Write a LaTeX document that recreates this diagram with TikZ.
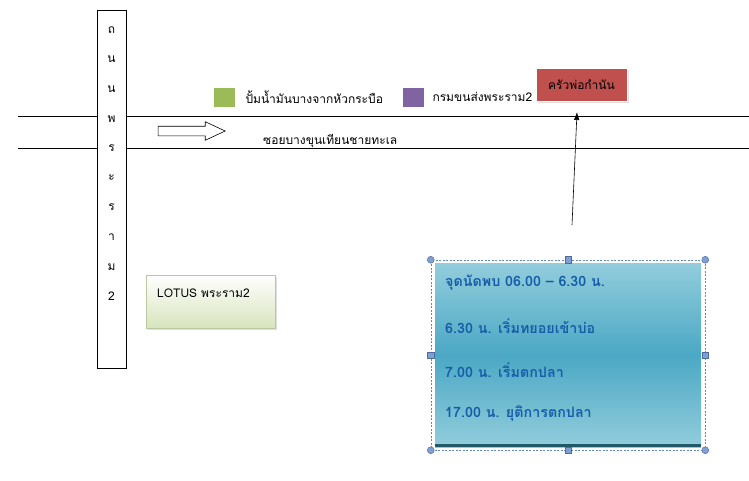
\documentclass[tikz,border=0pt]{standalone}
\usepackage{fontspec}
\newfontfamily\thaifont[Script=Thai]{Loma}
\usepackage{xcolor}
\usetikzlibrary{arrows.meta,positioning,shapes.arrows,shadows}

\definecolor{pumpgreen}{RGB}{155,187,89}
\definecolor{dltpurple}{RGB}{128,100,162}
\definecolor{kitchenred}{RGB}{192,80,77}
\definecolor{lotusgreen}{RGB}{215,228,189}
\definecolor{lotusedge}{RGB}{185,200,160}
\definecolor{schedlight}{RGB}{146,205,220}
\definecolor{scheddark}{RGB}{75,168,196}
\definecolor{schededge}{RGB}{33,89,104}
\definecolor{schedtext}{RGB}{23,94,168}
\definecolor{handleblue}{RGB}{95,135,200}

\begin{document}
\begin{tikzpicture}[
    x=1pt,y=-1pt,
    font=\thaifont\fontsize{12}{14}\selectfont,
    road/.style={line width=0.8pt},
    legendsq/.style={minimum width=22pt,minimum height=20pt,inner sep=0pt,draw=white,line width=0.6pt,
      drop shadow={shadow xshift=1.2pt,shadow yshift=-1.2pt,opacity=0.25}},
    legendtext/.style={inner sep=1pt,anchor=west},
    schedline/.style={anchor=west,inner sep=0pt,text=schedtext,font=\thaifont\bfseries\fontsize{14.3}{16}\selectfont},
    handlecirc/.style={circle,fill=handleblue!80!white,draw=handleblue!80!black,line width=0.4pt,minimum size=7pt,inner sep=0pt},
    handlesq/.style={rectangle,fill=handleblue!80!white,draw=handleblue!80!black,line width=0.4pt,minimum size=6.5pt,inner sep=0pt}
]
\useasboundingbox (0,0) rectangle (749,480);

% vertical road
\node[draw,line width=0.8pt,minimum width=29pt,minimum height=358pt,inner sep=0pt] (rama) at (111.5,189) {};
\foreach \ch [count=\i from 0] in {ถ,น,น,พ,ร,ะ,ร,า,ม,2}
  \node[inner sep=0pt] (ch\i) at (111.5,30+29.6*\i) {\ch};

% horizontal road
\coordinate (westtop) at (18,116);
\coordinate (westbot) at (18,148);
\coordinate (easttop) at (749,116);
\coordinate (eastbot) at (749,148);
\draw[road] (westtop) -- (westtop -| rama.west);
\draw[road] (westbot) -- (westbot -| rama.west);
\draw[road] (easttop -| rama.east) -- (easttop);
\draw[road] (eastbot -| rama.east) -- (eastbot);

\node[single arrow,draw,line width=0.6pt,minimum height=67pt,minimum width=18pt,inner sep=0pt,
  single arrow head extend=4.5pt,single arrow tip angle=50,text height=9pt] (flow) at (186.5,131) {};
\node[anchor=west,inner sep=0pt] (soi) at (263,141) {ซอยบางขุนเทียนชายทะเล};

% landmarks
\node[legendsq,fill=pumpgreen] (pump) at (224,97) {};
\node[legendtext,right=9pt of pump] (pumptext) {ปั้มน้ำมันบางจากหัวกระบือ};
\node[legendsq,fill=dltpurple] (dlt) at (413,97) {};
\node[legendtext,right=7pt of dlt] (dlttext) {กรมขนส่งพระราม2};
\node[fill=kitchenred,draw=white,line width=0.8pt,minimum width=91pt,minimum height=33pt,
  drop shadow={shadow xshift=1.5pt,shadow yshift=-1.5pt,opacity=0.25}] (kitchen) at (581.5,85) {ครัวพ่อกำนัน};

\coordinate (pointer) at (572,225);
\coordinate (meet) at (577,112);
\draw[-{Latex[length=8pt,width=5.5pt]},line width=0.6pt] (pointer) -- (meet);

\node[draw=lotusedge,top color=white,bottom color=lotusgreen,minimum width=129pt,minimum height=53pt,
  drop shadow={shadow xshift=1.5pt,shadow yshift=-1.5pt,opacity=0.25}] (lotus) at (210.5,301.5) {};
\node[anchor=west,inner sep=0pt] (lotustext) at (157,293) {LOTUS พระราม2};

% schedule box
\node[top color=schedlight,bottom color=schedlight,middle color=scheddark,minimum width=266pt,
  minimum height=184pt,inner sep=0pt] (sched) at (568,355) {};
\draw[schededge,line width=3.5pt] ([yshift=1.75pt]sched.south west) -- ([yshift=1.75pt]sched.south east);
\foreach \txt [count=\i from 0] in {จุดนัดพบ 06.00 – 6.30 น.,6.30 น. เริ่มทยอยเข้าบ่อ,7.00 น. เริ่มตกปลา,17.00 น. ยุติการตกปลา}
  \node[schedline] (line\i) at (445,283+43.5*\i) {\txt};

\node[draw=handleblue,dash pattern=on 2pt off 1.5pt,line width=0.5pt,minimum width=274pt,minimum height=190pt,inner sep=0pt] (sel) at (568,355) {};
\foreach \a in {north west,north east,south west,south east}
  \node[handlecirc] at (sel.\a) {};
\foreach \a in {north,south,east,west}
  \node[handlesq] at (sel.\a) {};
\end{tikzpicture}
\end{document}
